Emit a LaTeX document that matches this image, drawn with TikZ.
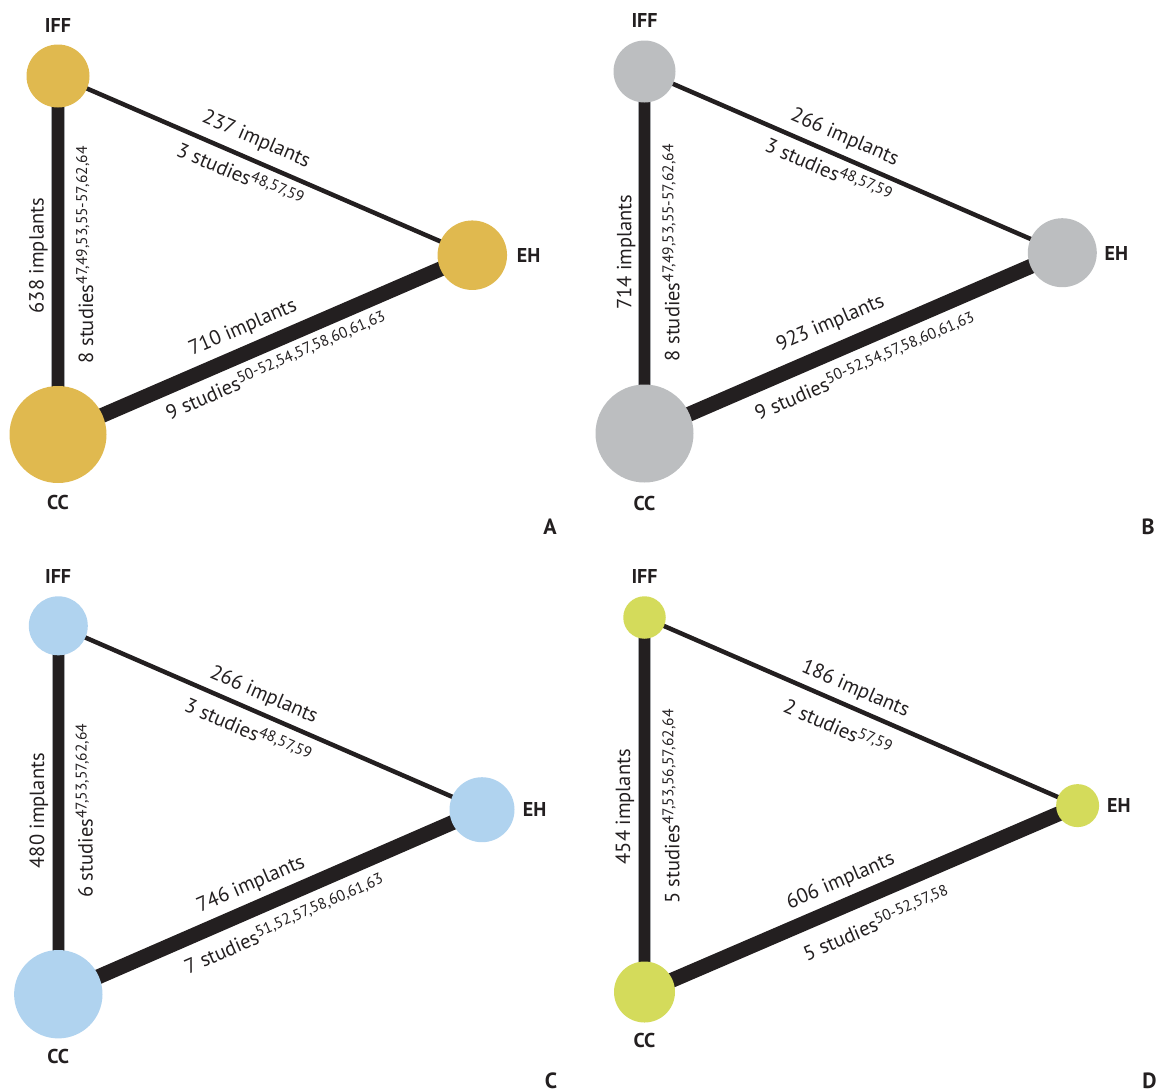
\documentclass[tikz,border=0pt]{standalone}
\usepackage{fontspec}
\setmainfont{PT Sans}
\pgfdeclarelayer{edges}
\pgfsetlayers{edges,main}
\definecolor{ink}{HTML}{231F20}
\definecolor{rim}{HTML}{A7A9AC}
\definecolor{goldfill}{HTML}{E0B94F}
\definecolor{greyfill}{HTML}{BCBEC0}
\definecolor{bluefill}{HTML}{B0D3EF}
\definecolor{limefill}{HTML}{D4DB5B}
% reference numbers set as raised, smaller figures
\newcommand{\cites}[1]{\raisebox{6pt}{\fontsize{15.5}{16}\selectfont #1}}
\tikzset{
  ball/.style={circle, draw=none, inner sep=0pt, minimum size=#1},
  tag/.style={font=\fontsize{20}{24}\selectfont\bfseries, text=ink, inner sep=0pt},
  panel/.style={font=\fontsize{22}{26}\selectfont\bfseries, text=ink, inner sep=0pt},
  lbl/.style={sloped, inner sep=0pt, text=ink, font=\fontsize{20.5}{24}\selectfont},
  thin link/.style={draw=ink, line width=4.5pt},
  thick link/.style={draw=ink, line width=15pt},
  spine/.style={draw=ink, line width=11.5pt},
  spine rim/.style={draw=rim, line width=13.5pt},
}
\begin{document}
\begin{tikzpicture}[x=1pt, y=-1pt]
\useasboundingbox (0,0) rectangle (1158,1090);
\clip (0,0) rectangle (1158,1090);

% ---------------- panel A ----------------
\node[ball=63pt, fill=goldfill] (A-IFF) at (58,76) {};
\node[ball=69.5pt, fill=goldfill] (A-EH) at (472.3,255.2) {};
\node[ball=97pt, fill=goldfill] (A-CC) at (58,434.5) {};
\node[tag] (A-IFF-t) at (58,25) {IFF};
\node[tag] (A-EH-t) at (528.6,255.5) {EH};
\node[tag] (A-CC-t) at (58,502.8) {CC};
\node[panel] (A-t) at (550,527) {A};
\begin{pgfonlayer}{edges}
  \draw[spine rim] (A-CC.center) -- (A-IFF.center);
  \draw[spine] (A-CC.center) -- (A-IFF.center)
    node[lbl, pos=.499, yshift=19.6pt] (A-v1) {638 implants}
    node[lbl, pos=.501, yshift=-26.8pt] (A-v2) {8 studies\cites{47,49,53,55-57,62,64}};
  \draw[thin link] (A-IFF.center) -- (A-EH.center)
    node[lbl, pos=.459, yshift=20pt] (A-u1) {237 implants}
    node[lbl, pos=.457, yshift=-17.6pt] (A-u2) {3 studies\cites{48,57,59}};
  \draw[thick link] (A-CC.center) -- (A-EH.center)
    node[lbl, pos=.470, yshift=24.2pt] (A-w1) {710 implants}
    node[lbl, pos=.504, yshift=-22.9pt] (A-w2) {9 studies\cites{50-52,54,57,58,60,61,63}};
\end{pgfonlayer}

% ---------------- panel B ----------------
\node[ball=62pt, fill=greyfill] (B-IFF) at (644.5,71.5) {};
\node[ball=69pt, fill=greyfill] (B-EH) at (1062.3,252.7) {};
\node[ball=98pt, fill=greyfill] (B-CC) at (644.5,433.5) {};
\node[tag] (B-IFF-t) at (644.5,20.7) {IFF};
\node[tag] (B-EH-t) at (1116.3,253) {EH};
\node[tag] (B-CC-t) at (644.5,503.4) {CC};
\node[panel] (B-t) at (1148,527) {B};
\begin{pgfonlayer}{edges}
  \draw[spine rim] (B-CC.center) -- (B-IFF.center);
  \draw[spine] (B-CC.center) -- (B-IFF.center)
    node[lbl, pos=.501, yshift=18.5pt] (B-v1) {714 implants}
    node[lbl, pos=.499, yshift=-26.5pt] (B-v2) {8 studies\cites{47,49,53,55-57,62,64}};
  \draw[thin link] (B-IFF.center) -- (B-EH.center)
    node[lbl, pos=.461, yshift=18.8pt] (B-u1) {266 implants}
    node[lbl, pos=.457, yshift=-16.7pt] (B-u2) {3 studies\cites{48,57,59}};
  \draw[thick link] (B-CC.center) -- (B-EH.center)
    node[lbl, pos=.471, yshift=26.9pt] (B-w1) {923 implants}
    node[lbl, pos=.503, yshift=-25.4pt] (B-w2) {9 studies\cites{50-52,54,57,58,60,61,63}};
\end{pgfonlayer}

% ---------------- panel C ----------------
\node[ball=59pt, fill=bluefill] (C-IFF) at (58.3,625.8) {};
\node[ball=65pt, fill=bluefill] (C-EH) at (482,809.7) {};
\node[ball=88.4pt, fill=bluefill] (C-CC) at (58.3,994.2) {};
\node[tag] (C-IFF-t) at (58.1,576.9) {IFF};
\node[tag] (C-EH-t) at (534.6,809) {EH};
\node[tag] (C-CC-t) at (58.1,1056.2) {CC};
\node[panel] (C-t) at (551,1081) {C};
\begin{pgfonlayer}{edges}
  \draw[spine rim] (C-CC.center) -- (C-IFF.center);
  \draw[spine] (C-CC.center) -- (C-IFF.center)
    node[lbl, pos=.498, yshift=19.5pt] (C-v1) {480 implants}
    node[lbl, pos=.498, yshift=-25.9pt] (C-v2) {6 studies\cites{47,53,57,62,64}};
  \draw[thin link] (C-IFF.center) -- (C-EH.center)
    node[lbl, pos=.468, yshift=17.8pt] (C-u1) {266 implants}
    node[lbl, pos=.467, yshift=-19.8pt] (C-u2) {3 studies\cites{48,57,59}};
  \draw[thick link] (C-CC.center) -- (C-EH.center)
    node[lbl, pos=.477, yshift=23.2pt] (C-w1) {746 implants}
    node[lbl, pos=.509, yshift=-25.4pt] (C-w2) {7 studies\cites{51,52,57,58,60,61,63}};
\end{pgfonlayer}

% ---------------- panel D ----------------
\node[ball=42.5pt, fill=limefill] (D-IFF) at (644.5,617.5) {};
\node[ball=43pt, fill=limefill] (D-EH) at (1077.6,805.6) {};
\node[ball=61pt, fill=limefill] (D-CC) at (644.5,992) {};
\node[tag] (D-IFF-t) at (644.5,576.9) {IFF};
\node[tag] (D-EH-t) at (1118.9,805.5) {EH};
\node[tag] (D-CC-t) at (644.5,1040.7) {CC};
\node[panel] (D-t) at (1149.5,1081) {D};
\begin{pgfonlayer}{edges}
  \draw[spine rim] (D-CC.center) -- (D-IFF.center);
  \draw[spine] (D-CC.center) -- (D-IFF.center)
    node[lbl, pos=.495, yshift=19.5pt] (D-v1) {454 implants}
    node[lbl, pos=.495, yshift=-26.5pt] (D-v2) {5 studies\cites{47,53,56,57,62,64}};
  \draw[thin link] (D-IFF.center) -- (D-EH.center)
    node[lbl, pos=.470, yshift=18pt] (D-u1) {186 implants}
    node[lbl, pos=.468, yshift=-23pt] (D-u2) {2 studies\cites{57,59}};
  \draw[thick link] (D-CC.center) -- (D-EH.center)
    node[lbl, pos=.475, yshift=23.9pt] (D-w1) {606 implants}
    node[lbl, pos=.509, yshift=-27.9pt] (D-w2) {5 studies\cites{50-52,57,58}};
\end{pgfonlayer}
\end{tikzpicture}
\end{document}
